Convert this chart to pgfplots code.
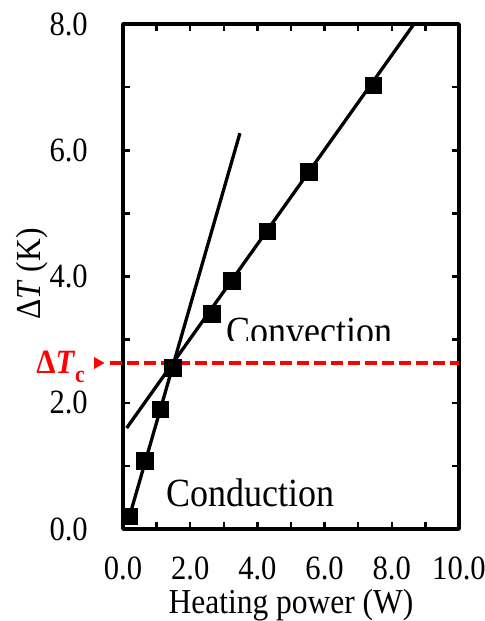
\documentclass[border=0pt]{standalone}
\usepackage{fontspec}
\setmainfont{Liberation Serif}[FakeStretch=0.9]
\usepackage{pgfplots}
\pgfplotsset{compat=1.18}
\begin{document}
\begin{tikzpicture}
\useasboundingbox (-123bp,-92bp) rectangle (362bp,529bp);
\begin{axis}[
  at={(0,0)}, anchor=south west,
  scale only axis, width=336bp, height=505bp,
  xmin=0, xmax=10, ymin=0, ymax=8,
  xtick={0,2,...,10}, minor xtick={1,3,...,9},
  ytick={0,2,...,8}, minor ytick={1,3,5,7},
  tick align=inside,
  major tick length=7bp, minor tick length=7bp,
  tick style={black, line width=2.5bp},
  axis line style={line width=3.5bp, line join=round},
  clip=false,
  /pgf/number format/.cd, fixed, fixed zerofill, precision=1, assume math mode=true,
  /pgfplots/.cd,
  tick label style={font=\fontsize{34bp}{40bp}\selectfont},
  xticklabel style={inner sep=0pt, anchor=north, yshift=-28bp},
  yticklabel style={inner sep=0pt, anchor=east, xshift=-35bp},
  xlabel={Heating power (W)},
  ylabel={Δ\textit{T} (K)},
  label style={font=\fontsize{35bp}{40bp}\selectfont},
  xlabel style={at={(axis description cs:0.5,0)}, anchor=base, inner sep=0pt, yshift=-84bp},
  ylabel style={at={(axis description cs:-0.247,0.505)}, anchor=base, inner sep=0pt},
]
% critical temperature difference
\addplot[red, line width=4bp, dash pattern=on 12bp off 5bp] coordinates {(-0.39,2.63) (10,2.63)};
\addplot[only marks, red, mark=triangle*, mark size=6.5bp, mark options={rotate=-90, red}] coordinates {(-0.76,2.63)};
% conduction fit
\addplot[black, line width=3.3bp] coordinates {(0.15,0.12) (3.48,6.27)};
% convection fit
\addplot[black, line width=3.3bp] coordinates {(0.11,1.6) (8.66,8.0)};
% measured data
\addplot[only marks, black, mark=square*, mark size=8.3bp] coordinates {
  (0.18,0.20) (0.65,1.08) (1.11,1.90) (1.48,2.56) (2.64,3.41)
  (3.24,3.93) (4.29,4.72) (5.52,5.66) (7.45,7.03)
};
\node[red, anchor=base east, inner sep=0pt, font=\fontsize{34bp}{40bp}\selectfont]
  at (axis cs:-1.13,2.46) {\textbf{Δ\textit{T}}\raisebox{-9bp}{\fontsize{24bp}{28bp}\selectfont\textbf{c}}};
\node[anchor=base west, inner sep=0pt, font=\fontsize{40bp}{46bp}\selectfont]
  at (axis cs:1.28,0.364) {Conduction};
\coordinate (cv) at (axis cs:3.07,2.915);
\coordinate (cvclipA) at (axis cs:2.9,2.98);
\coordinate (cvclipB) at (axis cs:9.5,3.9);
\end{axis}
\begin{scope}
\clip (cvclipA) rectangle (cvclipB);
\node[anchor=base west, inner sep=0pt, font=\fontsize{40bp}{46bp}\selectfont] at (cv) {Convection};
\end{scope}
\end{tikzpicture}
\end{document}
